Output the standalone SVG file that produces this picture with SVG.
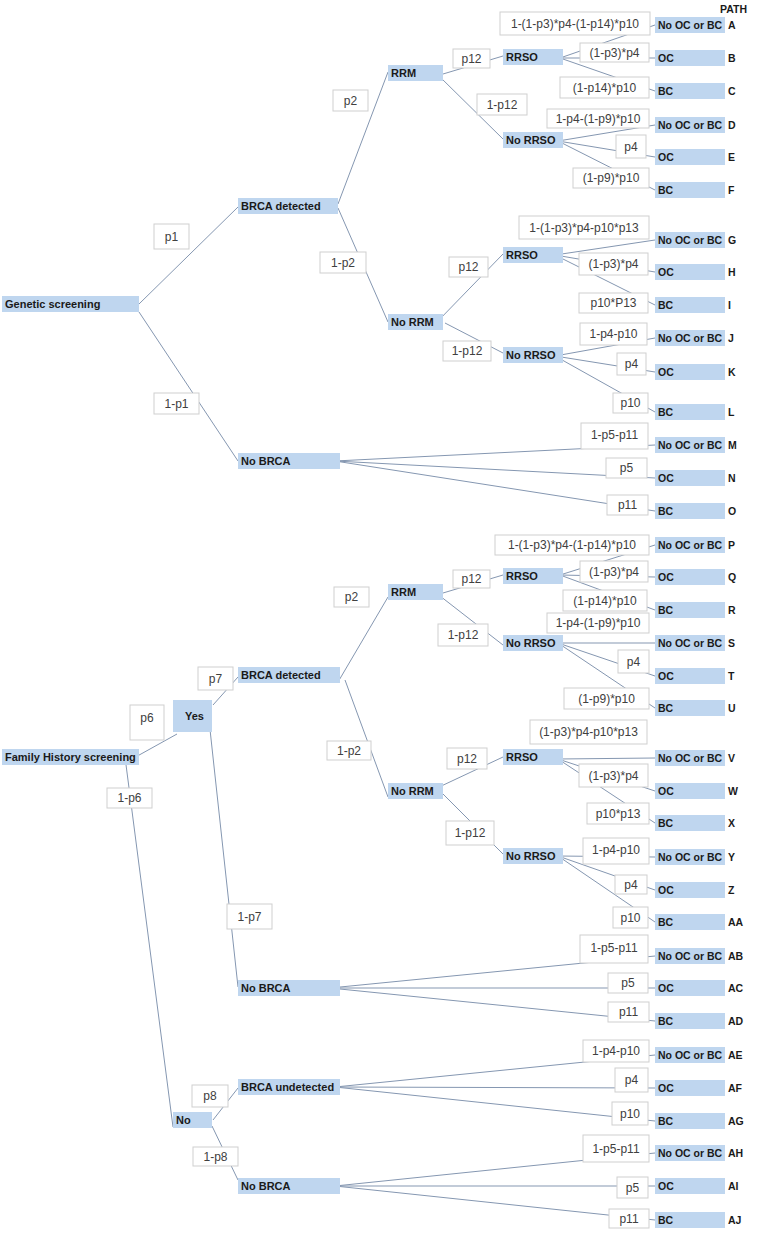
<svg xmlns="http://www.w3.org/2000/svg" width="771" height="1233" viewBox="0 0 771 1233">
<style>
.n{fill:#bfd6ef}
.nt{font-family:"Liberation Sans",Arial,sans-serif;font-weight:bold;font-size:11px;fill:#1a1a1a}
.lt{font-family:"Liberation Sans",Arial,sans-serif;font-weight:bold;font-size:10.5px;fill:#1a1a1a}
.pb{fill:#fff;stroke:#cfcfcf;stroke-width:1}
.pt{font-family:"Liberation Sans",Arial,sans-serif;font-size:12px;fill:#404040;text-anchor:middle}
.c line{stroke:#8597b1;stroke-width:1}
</style>
<rect width="771" height="1233" fill="#fff"/>
<g id="connectors" class="c">
<line x1="139" y1="304" x2="238" y2="207"/>
<line x1="139" y1="312" x2="238" y2="461"/>
<line x1="338" y1="204" x2="388" y2="72"/>
<line x1="338" y1="208" x2="388" y2="322"/>
<line x1="443" y1="74" x2="503" y2="56"/>
<line x1="440" y1="77" x2="503" y2="139"/>
<line x1="560" y1="58" x2="655" y2="25"/>
<line x1="560" y1="58" x2="655" y2="58"/>
<line x1="560" y1="58" x2="655" y2="91"/>
<line x1="558" y1="141" x2="655" y2="125"/>
<line x1="558" y1="141" x2="655" y2="157"/>
<line x1="558" y1="141" x2="655" y2="190"/>
<line x1="437" y1="322" x2="503" y2="254"/>
<line x1="445" y1="323" x2="503" y2="353"/>
<line x1="555" y1="255" x2="655" y2="240"/>
<line x1="555" y1="255" x2="655" y2="272"/>
<line x1="555" y1="255" x2="655" y2="305"/>
<line x1="555" y1="356" x2="655" y2="338"/>
<line x1="555" y1="356" x2="655" y2="372"/>
<line x1="555" y1="356" x2="655" y2="412"/>
<line x1="335" y1="461" x2="655" y2="445"/>
<line x1="335" y1="461" x2="655" y2="478"/>
<line x1="335" y1="461" x2="655" y2="511"/>
<line x1="132" y1="759" x2="177" y2="734"/>
<line x1="125" y1="757" x2="173" y2="1127"/>
<line x1="213" y1="705" x2="238" y2="677"/>
<line x1="208" y1="711" x2="238" y2="987"/>
<line x1="338" y1="682" x2="388" y2="597"/>
<line x1="345" y1="680" x2="388" y2="797"/>
<line x1="443" y1="593" x2="503" y2="575"/>
<line x1="440" y1="596" x2="503" y2="645"/>
<line x1="560" y1="575" x2="655" y2="545"/>
<line x1="560" y1="575" x2="655" y2="577"/>
<line x1="560" y1="575" x2="655" y2="610"/>
<line x1="558" y1="643" x2="655" y2="643"/>
<line x1="558" y1="643" x2="655" y2="676"/>
<line x1="558" y1="643" x2="655" y2="708"/>
<line x1="437" y1="788" x2="503" y2="757"/>
<line x1="437" y1="788" x2="503" y2="854"/>
<line x1="558" y1="759" x2="655" y2="758"/>
<line x1="558" y1="759" x2="655" y2="791"/>
<line x1="558" y1="759" x2="655" y2="823"/>
<line x1="558" y1="856" x2="655" y2="857"/>
<line x1="558" y1="856" x2="655" y2="890"/>
<line x1="558" y1="856" x2="655" y2="922"/>
<line x1="330" y1="988" x2="655" y2="956"/>
<line x1="330" y1="988" x2="655" y2="988"/>
<line x1="330" y1="988" x2="655" y2="1021"/>
<line x1="213" y1="1120" x2="238" y2="1088"/>
<line x1="212" y1="1126" x2="238" y2="1180"/>
<line x1="335" y1="1087" x2="655" y2="1055"/>
<line x1="335" y1="1087" x2="655" y2="1088"/>
<line x1="335" y1="1087" x2="655" y2="1121"/>
<line x1="335" y1="1186" x2="655" y2="1153"/>
<line x1="335" y1="1186" x2="655" y2="1186"/>
<line x1="335" y1="1186" x2="655" y2="1220"/>
</g>
<g id="probabilities">
<g><rect class="pb" x="154" y="224" width="35" height="25"/><text class="pt" x="171.5" y="240.5">p1</text></g>
<g><rect class="pb" x="154" y="393" width="45" height="21"/><text class="pt" x="176.5" y="407.5">1-p1</text></g>
<g><rect class="pb" x="333" y="90" width="35" height="21"/><text class="pt" x="350.5" y="104.5">p2</text></g>
<g><rect class="pb" x="320" y="252" width="46" height="21"/><text class="pt" x="343" y="266.5">1-p2</text></g>
<g><rect class="pb" x="453" y="49" width="37" height="19"/><text class="pt" x="471.5" y="62.5">p12</text></g>
<g><rect class="pb" x="477" y="94" width="50" height="21"/><text class="pt" x="502" y="108.5">1-p12</text></g>
<g><rect class="pb" x="500" y="12" width="150" height="23"/><text class="pt" x="575" y="27.5">1-(1-p3)*p4-(1-p14)*p10</text></g>
<g><rect class="pb" x="580" y="43" width="69" height="19"/><text class="pt" x="614.5" y="56.5">(1-p3)*p4</text></g>
<g><rect class="pb" x="560" y="77" width="89" height="21"/><text class="pt" x="604.5" y="91.5">(1-p14)*p10</text></g>
<g><rect class="pb" x="547" y="109" width="102" height="19"/><text class="pt" x="598" y="122.5">1-p4-(1-p9)*p10</text></g>
<g><rect class="pb" x="616" y="135" width="30" height="23"/><text class="pt" x="631" y="150.5">p4</text></g>
<g><rect class="pb" x="573" y="168" width="76" height="20"/><text class="pt" x="611" y="182">(1-p9)*p10</text></g>
<g><rect class="pb" x="519" y="216" width="130" height="23"/><text class="pt" x="584" y="231.5">1-(1-p3)*p4-p10*p13</text></g>
<g><rect class="pb" x="449" y="257" width="39" height="20"/><text class="pt" x="468.5" y="271">p12</text></g>
<g><rect class="pb" x="579" y="253" width="69" height="22"/><text class="pt" x="613.5" y="268">(1-p3)*p4</text></g>
<g><rect class="pb" x="579" y="293" width="69" height="20"/><text class="pt" x="613.5" y="307">p10*P13</text></g>
<g><rect class="pb" x="443" y="341" width="48" height="20"/><text class="pt" x="467" y="355">1-p12</text></g>
<g><rect class="pb" x="580" y="323" width="67" height="22"/><text class="pt" x="613.5" y="338">1-p4-p10</text></g>
<g><rect class="pb" x="617" y="353" width="29" height="22"/><text class="pt" x="631.5" y="368">p4</text></g>
<g><rect class="pb" x="613" y="393" width="35" height="20"/><text class="pt" x="630.5" y="407">p10</text></g>
<g><rect class="pb" x="581" y="423" width="67" height="26"/><text class="pt" x="614.5" y="439">1-p5-p11</text></g>
<g><rect class="pb" x="606" y="458" width="41" height="20"/><text class="pt" x="626.5" y="472">p5</text></g>
<g><rect class="pb" x="607" y="495" width="41" height="20"/><text class="pt" x="627.5" y="509">p11</text></g>
<g><rect class="pb" x="334" y="587" width="35" height="20"/><text class="pt" x="351.5" y="601">p2</text></g>
<g><rect class="pb" x="327" y="741" width="44" height="19"/><text class="pt" x="349" y="754.5">1-p2</text></g>
<g><rect class="pb" x="198" y="667" width="35" height="23"/><text class="pt" x="215.5" y="682.5">p7</text></g>
<g><rect class="pb" x="130" y="705" width="34" height="35"/><text class="pt" x="147" y="722">p6</text></g>
<g><rect class="pb" x="107" y="788" width="45" height="20"/><text class="pt" x="129.5" y="802">1-p6</text></g>
<g><rect class="pb" x="227" y="904" width="45" height="25"/><text class="pt" x="249.5" y="920.5">1-p7</text></g>
<g><rect class="pb" x="453" y="570" width="37" height="18"/><text class="pt" x="471.5" y="583">p12</text></g>
<g><rect class="pb" x="438" y="624" width="50" height="22"/><text class="pt" x="463" y="639">1-p12</text></g>
<g><rect class="pb" x="495" y="535" width="154" height="20"/><text class="pt" x="572" y="549">1-(1-p3)*p4-(1-p14)*p10</text></g>
<g><rect class="pb" x="580" y="561" width="68" height="21"/><text class="pt" x="614" y="575.5">(1-p3)*p4</text></g>
<g><rect class="pb" x="563" y="590" width="84" height="21"/><text class="pt" x="605" y="604.5">(1-p14)*p10</text></g>
<g><rect class="pb" x="547" y="613" width="102" height="20"/><text class="pt" x="598" y="627">1-p4-(1-p9)*p10</text></g>
<g><rect class="pb" x="618" y="650" width="31" height="23"/><text class="pt" x="633.5" y="665.5">p4</text></g>
<g><rect class="pb" x="564" y="688" width="85" height="21"/><text class="pt" x="606.5" y="702.5">(1-p9)*p10</text></g>
<g><rect class="pb" x="530" y="720" width="117" height="24"/><text class="pt" x="588.5" y="736">(1-p3)*p4-p10*p13</text></g>
<g><rect class="pb" x="447" y="748" width="40" height="21"/><text class="pt" x="467" y="762.5">p12</text></g>
<g><rect class="pb" x="579" y="764" width="69" height="23"/><text class="pt" x="613.5" y="779.5">(1-p3)*p4</text></g>
<g><rect class="pb" x="587" y="803" width="62" height="21"/><text class="pt" x="618" y="817.5">p10*p13</text></g>
<g><rect class="pb" x="446" y="821" width="48" height="24"/><text class="pt" x="470" y="837">1-p12</text></g>
<g><rect class="pb" x="583" y="838" width="66" height="26"/><text class="pt" x="616" y="854">1-p4-p10</text></g>
<g><rect class="pb" x="615" y="875" width="32" height="19"/><text class="pt" x="631" y="889">p4</text></g>
<g><rect class="pb" x="613" y="907" width="35" height="21"/><text class="pt" x="630.5" y="921.5">p10</text></g>
<g><rect class="pb" x="580" y="935" width="68" height="28"/><text class="pt" x="614" y="952">1-p5-p11</text></g>
<g><rect class="pb" x="608" y="973" width="40" height="20"/><text class="pt" x="628" y="987">p5</text></g>
<g><rect class="pb" x="608" y="1002" width="41" height="20"/><text class="pt" x="628.5" y="1016">p11</text></g>
<g><rect class="pb" x="583" y="1040" width="66" height="22"/><text class="pt" x="616" y="1055">1-p4-p10</text></g>
<g><rect class="pb" x="615" y="1068" width="33" height="24"/><text class="pt" x="631.5" y="1084">p4</text></g>
<g><rect class="pb" x="612" y="1102" width="36" height="23"/><text class="pt" x="630" y="1117.5">p10</text></g>
<g><rect class="pb" x="583" y="1135" width="66" height="27"/><text class="pt" x="616" y="1152.5">1-p5-p11</text></g>
<g><rect class="pb" x="617" y="1177" width="31" height="21"/><text class="pt" x="632.5" y="1191.5">p5</text></g>
<g><rect class="pb" x="609" y="1209" width="40" height="19"/><text class="pt" x="629" y="1222.5">p11</text></g>
<g><rect class="pb" x="192" y="1085" width="36" height="22"/><text class="pt" x="210" y="1100">p8</text></g>
<g><rect class="pb" x="193" y="1147" width="45" height="19"/><text class="pt" x="215.5" y="1160.5">1-p8</text></g>
</g>
<g id="n-genetic"><rect class="n" x="2" y="296" width="137" height="16"/><text class="nt" x="5" y="308">Genetic screening</text></g>
<g id="n-brca1"><rect class="n" x="238" y="198" width="100" height="16"/><text class="nt" x="241" y="210">BRCA detected</text></g>
<g id="n-nobrca1"><rect class="n" x="238" y="453" width="102" height="16"/><text class="nt" x="241" y="465">No BRCA</text></g>
<g id="n-rrm1"><rect class="n" x="388" y="65" width="55" height="16"/><text class="nt" x="391" y="77">RRM</text></g>
<g id="n-norrm1"><rect class="n" x="388" y="314" width="55" height="16"/><text class="nt" x="391" y="326">No RRM</text></g>
<g id="n-rrso1"><rect class="n" x="503" y="49" width="60" height="16"/><text class="nt" x="506" y="61">RRSO</text></g>
<g id="n-norrso1"><rect class="n" x="503" y="132" width="60" height="16"/><text class="nt" x="506" y="144">No RRSO</text></g>
<g id="n-rrso2"><rect class="n" x="503" y="247" width="60" height="16"/><text class="nt" x="506" y="259">RRSO</text></g>
<g id="n-norrso2"><rect class="n" x="503" y="347" width="60" height="16"/><text class="nt" x="506" y="359">No RRSO</text></g>
<g id="n-family"><rect class="n" x="2" y="749" width="137" height="16"/><text class="nt" x="5" y="761">Family History screening</text></g>
<g id="n-yes"><rect class="n" x="173" y="700" width="39" height="32"/><text class="nt" x="185" y="720">Yes</text></g>
<g id="n-no"><rect class="n" x="173" y="1112" width="39" height="16"/><text class="nt" x="176" y="1124">No</text></g>
<g id="n-brca2"><rect class="n" x="238" y="667" width="102" height="16"/><text class="nt" x="241" y="679">BRCA detected</text></g>
<g id="n-nobrca2"><rect class="n" x="238" y="980" width="102" height="16"/><text class="nt" x="241" y="992">No BRCA</text></g>
<g id="n-brcaund"><rect class="n" x="238" y="1079" width="102" height="16"/><text class="nt" x="241" y="1091">BRCA undetected</text></g>
<g id="n-nobrca3"><rect class="n" x="238" y="1178" width="102" height="16"/><text class="nt" x="241" y="1190">No BRCA</text></g>
<g id="n-rrm2"><rect class="n" x="388" y="584" width="55" height="16"/><text class="nt" x="391" y="596">RRM</text></g>
<g id="n-norrm2"><rect class="n" x="388" y="783" width="55" height="16"/><text class="nt" x="391" y="795">No RRM</text></g>
<g id="n-rrso3"><rect class="n" x="503" y="568" width="60" height="16"/><text class="nt" x="506" y="580">RRSO</text></g>
<g id="n-norrso3"><rect class="n" x="503" y="635" width="60" height="16"/><text class="nt" x="506" y="647">No RRSO</text></g>
<g id="n-rrso4"><rect class="n" x="503" y="749" width="60" height="16"/><text class="nt" x="506" y="761">RRSO</text></g>
<g id="n-norrso4"><rect class="n" x="503" y="848" width="60" height="16"/><text class="nt" x="506" y="860">No RRSO</text></g>
<text class="lt" x="720" y="13" font-size="10">PATH</text>
<g id="leaf-A"><rect class="n" x="655" y="17" width="70" height="16"/><text class="lt" x="658" y="29">No OC or BC</text><text class="lt" x="728" y="29">A</text></g>
<g id="leaf-B"><rect class="n" x="655" y="50" width="70" height="16"/><text class="lt" x="658" y="62">OC</text><text class="lt" x="728" y="62">B</text></g>
<g id="leaf-C"><rect class="n" x="655" y="83" width="70" height="16"/><text class="lt" x="658" y="95">BC</text><text class="lt" x="728" y="95">C</text></g>
<g id="leaf-D"><rect class="n" x="655" y="117" width="70" height="16"/><text class="lt" x="658" y="129">No OC or BC</text><text class="lt" x="728" y="129">D</text></g>
<g id="leaf-E"><rect class="n" x="655" y="149" width="70" height="16"/><text class="lt" x="658" y="161">OC</text><text class="lt" x="728" y="161">E</text></g>
<g id="leaf-F"><rect class="n" x="655" y="182" width="70" height="16"/><text class="lt" x="658" y="194">BC</text><text class="lt" x="728" y="194">F</text></g>
<g id="leaf-G"><rect class="n" x="655" y="232" width="70" height="16"/><text class="lt" x="658" y="244">No OC or BC</text><text class="lt" x="728" y="244">G</text></g>
<g id="leaf-H"><rect class="n" x="655" y="264" width="70" height="16"/><text class="lt" x="658" y="276">OC</text><text class="lt" x="728" y="276">H</text></g>
<g id="leaf-I"><rect class="n" x="655" y="297" width="70" height="16"/><text class="lt" x="658" y="309">BC</text><text class="lt" x="728" y="309">I</text></g>
<g id="leaf-J"><rect class="n" x="655" y="330" width="70" height="16"/><text class="lt" x="658" y="342">No OC or BC</text><text class="lt" x="728" y="342">J</text></g>
<g id="leaf-K"><rect class="n" x="655" y="364" width="70" height="16"/><text class="lt" x="658" y="376">OC</text><text class="lt" x="728" y="376">K</text></g>
<g id="leaf-L"><rect class="n" x="655" y="404" width="70" height="16"/><text class="lt" x="658" y="416">BC</text><text class="lt" x="728" y="416">L</text></g>
<g id="leaf-M"><rect class="n" x="655" y="437" width="70" height="16"/><text class="lt" x="658" y="449">No OC or BC</text><text class="lt" x="728" y="449">M</text></g>
<g id="leaf-N"><rect class="n" x="655" y="470" width="70" height="16"/><text class="lt" x="658" y="482">OC</text><text class="lt" x="728" y="482">N</text></g>
<g id="leaf-O"><rect class="n" x="655" y="503" width="70" height="16"/><text class="lt" x="658" y="515">BC</text><text class="lt" x="728" y="515">O</text></g>
<g id="leaf-P"><rect class="n" x="655" y="537" width="70" height="16"/><text class="lt" x="658" y="549">No OC or BC</text><text class="lt" x="728" y="549">P</text></g>
<g id="leaf-Q"><rect class="n" x="655" y="569" width="70" height="16"/><text class="lt" x="658" y="581">OC</text><text class="lt" x="728" y="581">Q</text></g>
<g id="leaf-R"><rect class="n" x="655" y="602" width="70" height="16"/><text class="lt" x="658" y="614">BC</text><text class="lt" x="728" y="614">R</text></g>
<g id="leaf-S"><rect class="n" x="655" y="635" width="70" height="16"/><text class="lt" x="658" y="647">No OC or BC</text><text class="lt" x="728" y="647">S</text></g>
<g id="leaf-T"><rect class="n" x="655" y="668" width="70" height="16"/><text class="lt" x="658" y="680">OC</text><text class="lt" x="728" y="680">T</text></g>
<g id="leaf-U"><rect class="n" x="655" y="700" width="70" height="16"/><text class="lt" x="658" y="712">BC</text><text class="lt" x="728" y="712">U</text></g>
<g id="leaf-V"><rect class="n" x="655" y="750" width="70" height="16"/><text class="lt" x="658" y="762">No OC or BC</text><text class="lt" x="728" y="762">V</text></g>
<g id="leaf-W"><rect class="n" x="655" y="783" width="70" height="16"/><text class="lt" x="658" y="795">OC</text><text class="lt" x="728" y="795">W</text></g>
<g id="leaf-X"><rect class="n" x="655" y="815" width="70" height="16"/><text class="lt" x="658" y="827">BC</text><text class="lt" x="728" y="827">X</text></g>
<g id="leaf-Y"><rect class="n" x="655" y="849" width="70" height="16"/><text class="lt" x="658" y="861">No OC or BC</text><text class="lt" x="728" y="861">Y</text></g>
<g id="leaf-Z"><rect class="n" x="655" y="882" width="70" height="16"/><text class="lt" x="658" y="894">OC</text><text class="lt" x="728" y="894">Z</text></g>
<g id="leaf-AA"><rect class="n" x="655" y="914" width="70" height="16"/><text class="lt" x="658" y="926">BC</text><text class="lt" x="728" y="926">AA</text></g>
<g id="leaf-AB"><rect class="n" x="655" y="948" width="70" height="16"/><text class="lt" x="658" y="960">No OC or BC</text><text class="lt" x="728" y="960">AB</text></g>
<g id="leaf-AC"><rect class="n" x="655" y="980" width="70" height="16"/><text class="lt" x="658" y="992">OC</text><text class="lt" x="728" y="992">AC</text></g>
<g id="leaf-AD"><rect class="n" x="655" y="1013" width="70" height="16"/><text class="lt" x="658" y="1025">BC</text><text class="lt" x="728" y="1025">AD</text></g>
<g id="leaf-AE"><rect class="n" x="655" y="1047" width="70" height="16"/><text class="lt" x="658" y="1059">No OC or BC</text><text class="lt" x="728" y="1059">AE</text></g>
<g id="leaf-AF"><rect class="n" x="655" y="1080" width="70" height="16"/><text class="lt" x="658" y="1092">OC</text><text class="lt" x="728" y="1092">AF</text></g>
<g id="leaf-AG"><rect class="n" x="655" y="1113" width="70" height="16"/><text class="lt" x="658" y="1125">BC</text><text class="lt" x="728" y="1125">AG</text></g>
<g id="leaf-AH"><rect class="n" x="655" y="1145" width="70" height="16"/><text class="lt" x="658" y="1157">No OC or BC</text><text class="lt" x="728" y="1157">AH</text></g>
<g id="leaf-AI"><rect class="n" x="655" y="1178" width="70" height="16"/><text class="lt" x="658" y="1190">OC</text><text class="lt" x="728" y="1190">AI</text></g>
<g id="leaf-AJ"><rect class="n" x="655" y="1212" width="70" height="16"/><text class="lt" x="658" y="1224">BC</text><text class="lt" x="728" y="1224">AJ</text></g>
</svg>
